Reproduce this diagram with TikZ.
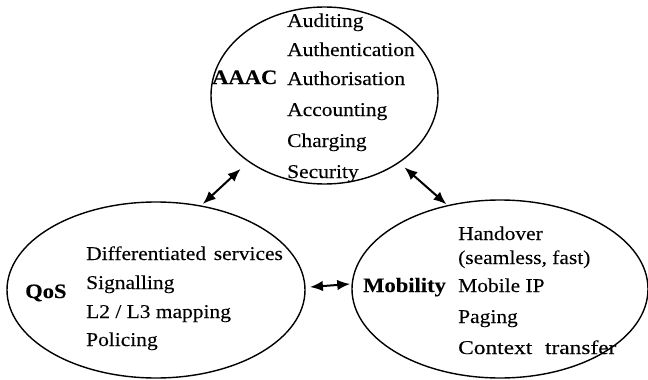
\documentclass[tikz,border=0pt]{standalone}
\usepackage{fontspec}
\setmainfont{Liberation Serif}[FakeStretch=1.1,FakeBold=0.12]
\newfontfamily\widefam{Liberation Serif}[FakeStretch=1.2,FakeBold=0.12]
\usetikzlibrary{shapes.geometric,arrows.meta}
\begin{document}
\begin{tikzpicture}[x=1pt,y=-1pt,
  blob/.style={draw, ellipse, line width=1.4pt, inner sep=0pt, outer sep=0pt},
  txt/.style={anchor=base west, inner sep=0pt, font=\fontsize{19.5}{23}\selectfont},
  head/.style={anchor=base west, inner sep=0pt, font=\fontsize{20.5}{23}\selectfont\bfseries},
  link/.style={{Latex[length=13pt,width=10.5pt]}-{Latex[length=13pt,width=10.5pt]}, line width=2pt}]
\useasboundingbox (0,0) rectangle (648,380);
% ellipses
\node[blob, minimum width=227pt, minimum height=177pt] (aaac) at (324.5,95.5) {};
\node[blob, minimum width=298pt, minimum height=176pt] (qos) at (156,290) {};
\node[blob, minimum width=296pt, minimum height=178pt] (mob) at (500,289) {};
% AAAC
\node[head] (aaacl) at (212,84) {AAAC};
\node[txt] (a1) at (287,27) {Auditing};
\node[txt] (a2) at (287,56) {Authentication};
\node[txt] (a3) at (287,85) {Authorisation};
\node[txt] (a4) at (287,116) {Accounting};
\node[txt] (a5) at (287,147) {Charging};
\node[txt] (a6) at (287,178) {Security};
% QoS
\node[head] (qosl) at (25,298) {QoS};
\node[txt] (q1) at (86,260) {Differentiated\hspace{0.12em} services};
\node[txt] (q2) at (86,289) {Signalling};
\node[txt] (q3) at (86,318) {L2 / L3 mapping};
\node[txt] (q4) at (86,346) {Policing};
% Mobility
\node[head] (mobl) at (363,292) {Mobility};
\node[txt] (m1) at (458,240) {Handover};
\node[txt] (m2) at (458,264) {(seamless, fast)};
\node[txt] (m3) at (458,292) {Mobile IP};
\node[txt] (m4) at (458,323) {Paging};
\node[txt] (m5) at (458,354) {\widefam Context\hspace{0.35em} transfer};
% connectors
\draw[link, shorten <=3pt, shorten >=11pt] (qos.62.4) -- (aaac.221.5);
\draw[link, shorten <=7.5pt, shorten >=2pt] (aaac.-42.8) -- (mob.122.9);
\draw[link, shorten <=5pt, shorten >=2pt] (qos.1.9) -- (mob.178.45);
\end{tikzpicture}
\end{document}
